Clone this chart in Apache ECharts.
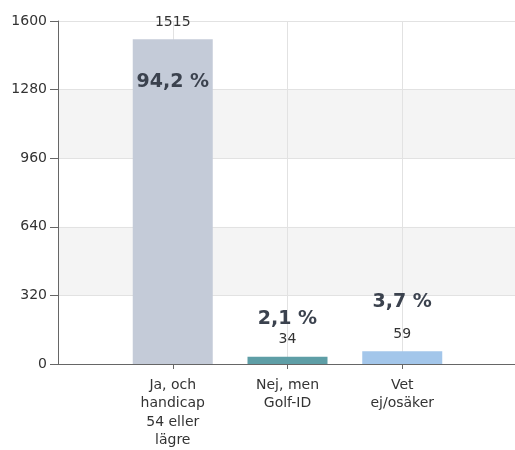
<!DOCTYPE html>
<html>
<head>
<meta charset="utf-8">
<script src="https://cdn.jsdelivr.net/npm/echarts@6/dist/echarts.min.js"></script>
<style>html,body{margin:0;padding:0;background:#fff;overflow:hidden}#c{width:530px;height:450px}</style>
</head>
<body>
<div id="c"></div>
<script>
// Data
var categories = ['', 'Ja, och\nhandicap\n54 eller\nlägre', 'Nej, men\nGolf-ID', 'Vet\nej/osäker', ''];
var values = [null, 1515, 34, 59, null];
var percentLabels = ['', '94,2 %', '2,1 %', '3,7 %', ''];
var barColors = [null, '#c4cbd8', '#5e9ea6', '#a3c6ea', null];
var yTicks = [0, 320, 640, 960, 1280, 1600];

var pctPos = [null, {position: 'insideTop', distance: 33}, {position: 'top', distance: 28}, {position: 'top', distance: 40}, null];

var chart = echarts.init(document.getElementById('c'), null, {renderer: 'canvas'});
var font = 'DejaVu Sans, Verdana, sans-serif';

var mainData = values.map(function (v, i) {
  if (v === null) return null;
  return {value: v, itemStyle: {color: barColors[i]}};
});
var pctData = values.map(function (v, i) {
  if (v === null) return null;
  return {
    value: v,
    label: {
      show: true,
      position: pctPos[i].position,
      distance: pctPos[i].distance,
      formatter: percentLabels[i]
    }
  };
});

chart.setOption({
  animation: false,
  backgroundColor: '#fff',
  grid: {left: 58, top: 21, width: 459, bottom: 86, containLabel: false},
  xAxis: {
    type: 'category',
    data: categories,
    boundaryGap: false,
    axisLine: {show: true, lineStyle: {color: '#666', width: 1}},
    axisTick: {show: true, length: 5, lineStyle: {color: '#666'}, interval: function (i, v) { return v !== ''; }},
    axisLabel: {color: '#333', fontSize: 14, fontFamily: font, lineHeight: 18.5, margin: 12, interval: 0},
    splitLine: {show: true, lineStyle: {color: '#e2e2e2'}, interval: 0}
  },
  yAxis: {
    type: 'value',
    min: yTicks[0],
    max: yTicks[yTicks.length - 1],
    interval: yTicks[1] - yTicks[0],
    axisLine: {show: true, lineStyle: {color: '#666'}},
    axisTick: {show: true, length: 8, lineStyle: {color: '#666'}},
    axisLabel: {color: '#333', fontSize: 14, fontFamily: font, margin: 11, formatter: function (v) { return String(v); }},
    splitLine: {show: true, lineStyle: {color: '#e2e2e2'}},
    splitArea: {show: true, areaStyle: {color: ['#ffffff', '#f4f4f4']}}
  },
  series: [
    {
      type: 'bar',
      data: mainData,
      barWidth: 80,
      label: {show: true, position: 'top', distance: 10, color: '#333', fontSize: 14, fontFamily: font}
    },
    {
      type: 'bar',
      data: pctData,
      barWidth: 80,
      barGap: '-100%',
      itemStyle: {color: 'rgba(0,0,0,0)'},
      label: {color: '#3b424e', fontSize: 19, fontWeight: 'bold', fontFamily: font},
      z: 3
    }
  ]
});
</script>
</body>
</html>
